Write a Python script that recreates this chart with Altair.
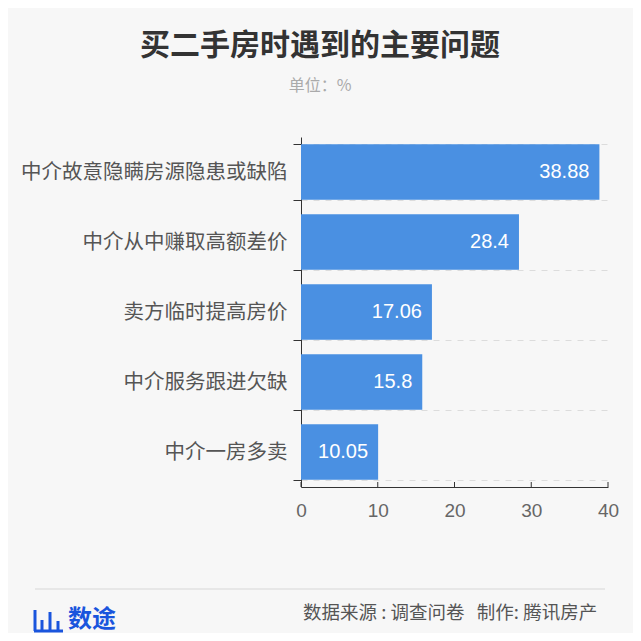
import altair as alt
import pandas as pd

categories = ["中介故意隐瞒房源隐患或缺陷", "中介从中赚取高额差价", "卖方临时提高房价", "中介服务跟进欠缺", "中介一房多卖"]
values = [38.88, 28.4, 17.06, 15.8, 10.05]
x_ticks = [0, 10, 20, 30, 40]

title_text = "买二手房时遇到的主要问题"
subtitle_text = "单位：%"
source_text = "数据来源\u00a0:\u00a0调查问卷\u00a0\u00a0\u00a0制作:\u00a0腾讯房产"
logo_text = "数途"

CJK = "Noto Sans CJK SC"
NUM = "Liberation Sans, Noto Sans CJK SC"
BAR = "#4a90e2"

df = pd.DataFrame({"cat": categories, "val": values, "lbl": [str(v) for v in values]})
W, H = 307, 350

y_enc = alt.Y("cat:N", sort=categories, title=None,
              scale=alt.Scale(paddingInner=0.21, paddingOuter=0.105),
              axis=alt.Axis(tickBand="extent", grid=True, gridDash=[6, 6], gridColor="#dcdcdc",
                            gridWidth=1, domainColor="#333", tickColor="#333", tickSize=8,
                            labelPadding=6, labelFont=CJK, labelFontSize=20.5, labelColor="#555",
                            labelLimit=400))
x_enc = alt.X("val:Q", title=None, scale=alt.Scale(domain=[0, 40], nice=False),
              axis=alt.Axis(values=x_ticks, ticks=False, grid=False, domainColor="#333",
                            labelPadding=14, labelFont=NUM, labelFontSize=19, labelColor="#666",
                            labelFlush=False))

base = alt.Chart(df)
bars = base.mark_bar(color=BAR).encode(x=x_enc, y=y_enc)
vals = base.mark_text(align="right", baseline="middle", dx=-10, color="white",
                      font=NUM, fontSize=20).encode(x="val:Q", y=alt.Y("cat:N", sort=categories), text="lbl:N")

tick_df = pd.DataFrame({"t": x_ticks})
up_ticks = alt.Chart(tick_df).mark_rule(color="#333", strokeWidth=1).encode(
    x="t:Q", y=alt.value(H), y2=alt.value(H - 5))

def ann(text, x, y, **kw):
    return alt.Chart(pd.DataFrame({"t": [text]})).mark_text(**kw).encode(
        x=alt.value(x), y=alt.value(y), text="t:N")

title = ann(title_text, 19, -91, align="center", baseline="middle", font=CJK, fontSize=30,
            fontWeight="bold", color="#333")
subtitle = ann(subtitle_text, 19, -51, align="center", baseline="middle", font=CJK, fontSize=16,
               color="#aaa")
source = ann(source_text, 2, 476, align="left", baseline="middle", font=CJK, fontSize=18.5,
             color="#555")
logo = ann(logo_text, -233, 483, align="left", baseline="middle", font=CJK, fontSize=24,
           fontWeight="bold", color="#1a55dd")

foot_line = alt.Chart(pd.DataFrame({"a": [0]})).mark_rule(color="#e2e2e2", strokeWidth=1.5).encode(
    x=alt.value(-266), x2=alt.value(304), y=alt.value(452))

# logo icon strokes
icon_df = pd.DataFrame({"x1": [-266, -259, -251, -243, -267],
                        "x2": [-266, -259, -251, -243, -238],
                        "y1": [473, 483, 475, 484, 494],
                        "y2": [494, 494, 494, 494, 494]})
icon = alt.Chart(icon_df).mark_rule(color="#1a55dd", strokeWidth=3).encode(
    x=alt.X("x1:Q", scale=None), x2="x2:Q", y=alt.Y("y1:Q", scale=None), y2="y2:Q")

chart = alt.layer(bars, vals, up_ticks, title, subtitle, foot_line, source, logo, icon).properties(
    width=W, height=H,
    autosize=alt.AutoSizeParams(type="none"),
    padding={"left": 293, "top": 129, "right": 25, "bottom": 146},
    background="#f7f7f7",
).configure_view(stroke=None)

chart.save("out.html", embed_options={"renderer": "svg", "actions": False})
